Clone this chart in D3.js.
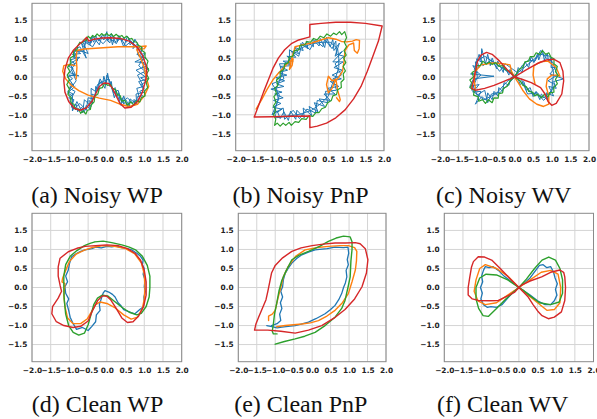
<!DOCTYPE html>
<html><head><meta charset="utf-8">
<script src="https://cdn.jsdelivr.net/npm/d3@7"></script>
<style>body{margin:0;background:#fff}svg{display:block}</style>
</head><body>
<svg id="chart" width="597" height="419"></svg>
<script>
// ---------- tick labels / captions ----------
const xTicks = [-2, -1.5, -1, -0.5, 0, 0.5, 1, 1.5, 2];
const yTicks = [-1.5, -1, -0.5, 0, 0.5, 1, 1.5];
const captions = ["(a) Noisy WP", "(b) Noisy PnP", "(c) Noisy WV", "(d) Clean WP", "(e) Clean PnP", "(f) Clean WV"];
const seriesColors = ["#1f77b4", "#ff7f0e", "#2ca02c", "#d62728"];

// ---------- (a) Noisy WP ----------
const aBlue = [[-1.0,-0.3],[-0.88,-0.22],[-1.05,-0.12],[-0.92,-0.05],[-1.02,0.05],[-0.75,0.03],[-1.0,0.12],[-0.9,0.22],[-1.04,0.3],[-0.85,0.35],[-0.98,0.45],[-0.82,0.5],[-0.92,0.6],[-0.7,0.62],[-0.85,0.72],[-0.72,0.8],[-0.55,0.5],[-0.68,0.9],[-0.6,0.78],[-0.55,1.0],[-0.45,0.85],[-0.42,1.05],[-0.35,0.92],[-0.3,1.1],[-0.22,0.95],[-0.15,1.08],[-0.08,0.98],[0.0,1.2],[0.02,0.95],[0.1,1.08],[0.15,0.85],[0.2,1.05],[0.28,0.98],[0.32,1.1],[0.4,0.95],[0.45,1.05],[0.52,0.92],[0.6,1.02],[0.62,0.85],[0.72,0.95],[0.7,0.75],[0.82,0.88],[0.85,0.72],[0.95,0.78],[0.9,0.6],[1.02,0.62],[0.92,0.48],[0.75,0.4],[1.0,0.38],[0.95,0.25],[1.12,0.22],[0.98,0.12],[1.08,0.02],[0.9,-0.02],[1.05,-0.12],[0.92,-0.2],[1.0,-0.32],[0.88,-0.38],[0.95,-0.5],[0.82,-0.52],[0.85,-0.65],[0.72,-0.6],[0.75,-0.75],[0.62,-0.65],[0.6,-0.78],[0.52,-0.62],[0.45,-0.72],[0.42,-0.55],[0.35,-0.62],[0.32,-0.42],[0.25,-0.5],[0.22,-0.28],[0.15,-0.35],[0.12,-0.12],[0.08,-0.25],[0.02,0.1],[-0.02,-0.2],[-0.08,0.02],[-0.12,-0.22],[-0.2,-0.1],[-0.22,-0.35],[-0.3,-0.25],[-0.3,-0.5],[-0.4,-0.45],[-0.38,-0.7],[-0.48,-0.62],[-0.45,-0.85],[-0.55,-0.75],[-0.6,-0.92],[-0.68,-0.8],[-0.78,-0.92],[-0.82,-0.72],[-0.95,-0.8],[-0.88,-0.6],[-1.02,-0.55],[-0.9,-0.45],[-1.05,-0.38],[-0.95,-0.28],[-0.82,-0.1],[-0.95,0.2],[-0.78,0.45],[-0.88,0.68],[-0.62,0.68],[-0.58,0.92],[-0.38,0.8],[-0.25,1.02],[-0.1,0.88],[0.05,1.05],[0.2,0.92],[0.38,1.02],[0.5,0.82],[0.65,0.95],[0.8,0.78],[0.85,0.55],[0.98,0.5],[0.85,0.3],[1.02,0.15],[0.82,0.05],[0.98,-0.25],[0.8,-0.3],[0.88,-0.58],[0.68,-0.68],[0.55,-0.55],[0.4,-0.68],[0.3,-0.35],[0.18,-0.42],[0.05,-0.05],[-0.1,-0.12],[-0.25,-0.2],[-0.35,-0.58],[-0.5,-0.55],[-0.55,-0.88],[-0.72,-0.7],[-0.88,-0.85],[-0.98,-0.62],[-0.85,-0.38],[-1.0,-0.3],[-0.92,-0.18],[-1.05,0.0],[-0.85,0.08],[-0.98,0.35],[-0.72,0.52],[-0.9,0.52],[-0.75,0.72],[-0.5,0.62],[-0.65,0.95],[-0.42,0.9],[-0.38,1.08],[-0.2,0.85],[-0.12,1.12],[0.08,0.9],[0.12,1.15],[0.25,0.88],[0.35,1.05],[0.45,0.8],[0.55,1.08],[0.7,0.85],[0.75,1.0],[0.92,0.7],[0.8,0.6],[1.05,0.5],[0.88,0.4],[1.08,0.3],[0.78,0.18],[1.1,-0.05],[0.85,-0.12],[1.02,-0.4],[0.78,-0.45],[0.8,-0.72],[0.62,-0.58],[0.55,-0.8],[0.45,-0.5],[0.38,-0.75],[0.25,-0.4],[0.2,-0.55],[0.1,-0.15],[0.0,0.05],[-0.05,-0.3],[-0.18,-0.05],[-0.28,-0.4],[-0.42,-0.3],[-0.42,-0.78],[-0.6,-0.6],[-0.65,-0.95],[-0.8,-0.65],[-0.92,-0.9],[-0.92,-0.5],[-1.05,-0.42],[-0.85,-0.25]];
const aOrange = [[-0.82,-0.05],[-0.8,0.25],[-0.82,0.5],[-0.8,0.7],[-0.6,0.74],[-0.3,0.76],[0.0,0.78],[0.3,0.8],[0.6,0.8],[0.85,0.8],[1.05,0.82],[1.0,0.75],[0.8,0.72],[0.9,0.5],[1.0,0.25],[1.05,0.0],[1.12,-0.25],[1.0,-0.5],[0.82,-0.72],[0.6,-0.78],[0.35,-0.72],[0.1,-0.62],[-0.2,-0.56],[-0.5,-0.48],[-0.75,-0.36],[-0.95,-0.22],[-1.1,-0.05],[-1.18,0.15],[-1.15,0.3],[-1.0,0.33],[-0.85,0.3]];
const aGreen = [[-0.78,0.82],[-0.72,0.92],[-0.66,0.9],[-0.6,1.0],[-0.55,0.96],[-0.5,1.08],[-0.44,1.02],[-0.38,1.1],[-0.32,1.06],[-0.26,1.14],[-0.2,1.08],[-0.14,1.15],[-0.08,1.1],[0.0,1.15],[0.06,1.09],[0.12,1.14],[0.18,1.07],[0.25,1.13],[0.32,1.06],[0.4,1.1],[0.46,1.03],[0.53,1.08],[0.6,1.0],[0.67,1.02],[0.72,0.94],[0.8,0.92],[0.84,0.84],[0.92,0.8],[0.94,0.7],[1.02,0.64],[1.02,0.52],[1.1,0.42],[1.06,0.3],[1.12,0.18],[1.06,0.08],[1.12,-0.04],[1.05,-0.15],[1.09,-0.28],[1.0,-0.38],[1.02,-0.5],[0.92,-0.55],[0.88,-0.66],[0.78,-0.64],[0.72,-0.74],[0.64,-0.66],[0.55,-0.74],[0.48,-0.62],[0.4,-0.64],[0.36,-0.5],[0.28,-0.46],[0.24,-0.34],[0.15,-0.3],[0.1,-0.2],[0.02,-0.22],[-0.05,-0.16],[-0.12,-0.28],[-0.2,-0.3],[-0.24,-0.45],[-0.32,-0.5],[-0.34,-0.66],[-0.42,-0.74],[-0.44,-0.86],[-0.52,-0.88],[-0.56,-0.98],[-0.64,-0.9],[-0.7,-0.96],[-0.76,-0.84],[-0.84,-0.86],[-0.88,-0.72],[-0.96,-0.68],[-0.96,-0.54],[-1.04,-0.46],[-1.0,-0.32],[-1.07,-0.2],[-1.0,-0.08],[-1.06,0.05],[-0.99,0.15],[-1.05,0.26],[-0.96,0.36],[-0.98,0.5],[-0.88,0.56],[-0.9,0.68],[-0.8,0.72],[-0.78,0.82]];
const aRed = [[-0.72,0.88],[-0.6,0.98],[-0.54,1.05],[-0.48,0.95],[-0.35,1.0],[-0.15,1.03],[0.1,1.04],[0.35,1.02],[0.6,0.95],[0.8,0.8],[0.95,0.58],[1.05,0.3],[1.07,0.1],[1.02,-0.15],[0.95,-0.4],[0.82,-0.65],[0.65,-0.8],[0.48,-0.82],[0.35,-0.7],[0.25,-0.5],[0.15,-0.3],[0.05,-0.17],[-0.08,-0.16],[-0.2,-0.25],[-0.3,-0.45],[-0.4,-0.65],[-0.55,-0.82],[-0.72,-0.88],[-0.88,-0.82],[-1.02,-0.65],[-1.12,-0.4],[-1.15,-0.1],[-1.12,0.2],[-1.03,0.5],[-0.9,0.7],[-0.8,0.8],[-0.72,0.88]];

// ---------- (b) Noisy PnP ----------
const bBlue = [[-0.9,-0.95],[-0.75,-0.85],[-1.0,-0.8],[-0.78,-0.7],[-0.98,-0.62],[-0.72,-0.55],[-0.95,-0.45],[-0.75,-0.4],[-1.05,-0.32],[-0.7,-0.25],[-0.9,-0.18],[-0.68,-0.1],[-0.92,-0.02],[-0.62,0.05],[-0.85,0.12],[-0.6,0.18],[-0.8,0.28],[-0.5,0.3],[-0.72,0.42],[-0.45,0.42],[-0.62,0.55],[-0.38,0.52],[-0.5,0.68],[-0.3,0.62],[-0.4,0.78],[-0.18,0.7],[-0.25,0.88],[-0.05,0.75],[-0.1,0.95],[0.1,0.8],[0.08,1.0],[0.25,0.82],[0.28,1.02],[0.4,0.78],[0.45,1.05],[0.55,0.8],[0.62,1.0],[0.65,0.7],[0.8,0.9],[0.68,0.55],[0.88,0.68],[0.62,0.4],[0.9,0.4],[0.65,0.25],[0.88,0.18],[0.6,0.05],[0.85,-0.05],[0.55,-0.12],[0.78,-0.25],[0.48,-0.3],[0.68,-0.45],[0.38,-0.45],[0.55,-0.62],[0.25,-0.58],[0.4,-0.78],[0.12,-0.68],[0.22,-0.92],[-0.02,-0.78],[0.05,-1.02],[-0.18,-0.82],[-0.15,-1.08],[-0.35,-0.88],[-0.38,-1.12],[-0.52,-0.9],[-0.58,-1.15],[-0.7,-0.92],[-0.8,-1.1],[-0.88,-0.9],[-1.02,-1.0],[-0.85,-0.6],[-0.9,-0.3],[-0.78,0.0],[-0.68,0.3],[-0.58,0.42],[-0.35,0.7],[-0.2,0.78],[0.05,0.88],[0.35,0.92],[0.55,0.92],[0.75,0.75],[0.78,0.5],[0.78,0.25],[0.7,0.0],[0.6,-0.2],[0.5,-0.5],[0.3,-0.7],[0.05,-0.88],[-0.25,-0.98],[-0.48,-1.02],[-0.7,-1.05],[-0.92,-1.08],[-0.95,-0.9],[-0.82,-0.48],[-1.02,-0.18],[-0.7,-0.05],[-0.82,0.35],[-0.55,0.35],[-0.55,0.72],[-0.3,0.55],[-0.2,0.92],[0.0,0.72],[0.15,0.98],[0.35,0.8],[0.4,1.0],[0.6,0.75],[0.7,0.95],[0.72,0.6],[0.92,0.55],[0.68,0.35],[0.85,0.05],[0.62,-0.05],[0.72,-0.35],[0.42,-0.38],[0.48,-0.68],[0.2,-0.62],[0.15,-0.95],[-0.08,-0.85],[-0.28,-1.1],[-0.45,-0.88],[-0.68,-1.12],[-0.72,-0.82],[-0.95,-0.95]];
const bOrange = [[-1.45,-0.85],[-1.3,-0.6],[-1.15,-0.32],[-1.0,-0.08],[-0.85,0.1],[-0.7,0.25],[-0.58,0.38],[-0.45,0.48],[-0.48,0.3],[-0.55,0.2],[-0.5,0.45],[-0.42,0.72],[-0.4,0.8],[-0.2,0.85],[0.05,0.9],[0.3,0.98],[0.5,1.04],[0.7,1.0],[0.85,0.94],[1.0,0.93],[1.15,0.95],[1.25,0.99],[1.34,0.97],[1.33,0.75],[1.28,0.63],[1.2,0.7],[1.18,0.9],[1.05,0.85],[0.95,0.7],[0.92,0.4],[0.88,0.15],[0.75,-0.05],[0.6,-0.1],[0.5,0.02],[0.45,-0.2],[0.5,-0.42],[0.6,-0.3],[0.7,-0.05],[0.75,-0.35],[0.82,-0.6],[0.8,-0.65],[0.72,-0.55]];
const bGreen = [[-0.95,-1.28],[-0.88,-1.22],[-0.8,-1.3],[-0.72,-1.22],[-0.65,-1.28],[-0.56,-1.2],[-0.5,-1.28],[-0.4,-1.18],[-0.3,-1.2],[-0.22,-1.1],[-0.1,-1.12],[-0.02,-1.02],[0.08,-1.04],[0.16,-0.94],[0.25,-0.94],[0.32,-0.84],[0.42,-0.8],[0.48,-0.68],[0.58,-0.62],[0.62,-0.5],[0.72,-0.46],[0.75,-0.34],[0.85,-0.28],[0.84,-0.14],[0.92,-0.06],[0.9,0.08],[0.96,0.16],[0.9,0.28],[0.97,0.38],[0.91,0.5],[0.98,0.58],[0.92,0.7],[0.99,0.8],[0.93,0.92],[0.99,1.04],[0.94,1.2],[0.86,1.12],[0.8,1.2],[0.72,1.12],[0.64,1.16],[0.56,1.08],[0.46,1.14],[0.38,1.04],[0.28,1.08],[0.2,0.98],[0.1,1.02],[0.02,0.92],[-0.08,0.94],[-0.15,0.84],[-0.26,0.84],[-0.3,0.72],[-0.42,0.7],[-0.45,0.56],[-0.56,0.52],[-0.58,0.38],[-0.68,0.34],[-0.7,0.2],[-0.8,0.14],[-0.8,0.0],[-0.9,-0.08],[-0.86,-0.22],[-0.95,-0.3],[-0.9,-0.44],[-0.97,-0.52],[-0.91,-0.66],[-0.98,-0.76],[-0.92,-0.88],[-0.98,-1.0],[-0.92,-1.12],[-0.95,-1.28]];
const bRed = [[-1.5,-1.06],[-1.38,-0.75],[-1.25,-0.4],[-1.12,-0.08],[-1.0,0.22],[-0.85,0.5],[-0.68,0.72],[-0.5,0.88],[-0.3,0.98],[-0.12,1.03],[0.0,1.06],[0.0,1.39],[0.3,1.42],[0.7,1.45],[1.1,1.45],[1.5,1.42],[1.95,1.35],[1.85,0.95],[1.7,0.55],[1.55,0.15],[1.38,-0.25],[1.18,-0.58],[0.95,-0.87],[0.7,-1.08],[0.45,-1.22],[0.2,-1.3],[0.0,-1.34],[0.0,-1.03],[-0.5,-1.04],[-1.0,-1.05],[-1.5,-1.06]];

// ---------- (c) Noisy WV ----------
const cBlue = [[0,0],[-0.12,0.2],[-0.15,0.05],[-0.28,0.3],[-0.3,0.12],[-0.45,0.42],[-0.48,0.22],[-0.6,0.5],[-0.65,0.3],[-0.72,0.6],[-0.78,0.35],[-0.88,0.75],[-0.9,0.4],[-1.02,0.48],[-0.95,0.25],[-1.12,0.3],[-1.0,0.12],[-1.18,0.08],[-0.55,0.02],[-1.1,-0.05],[-1.2,-0.25],[-0.95,-0.2],[-1.12,-0.4],[-0.9,-0.38],[-1.05,-0.72],[-0.88,-0.52],[-0.75,-0.62],[-0.72,-0.42],[-0.6,-0.6],[-0.55,-0.38],[-0.45,-0.5],[-0.42,-0.28],[-0.32,-0.38],[-0.28,-0.15],[-0.15,-0.22],[-0.1,-0.02],[0.05,0.05],[0.1,0.25],[0.2,0.12],[0.28,0.4],[0.38,0.25],[0.45,0.55],[0.52,0.38],[0.62,0.62],[0.65,0.45],[0.75,0.72],[0.8,0.45],[0.88,0.62],[0.92,0.4],[1.0,0.5],[0.98,0.25],[1.1,0.25],[0.95,0.08],[1.32,-0.05],[1.05,-0.12],[1.12,-0.3],[0.92,-0.25],[1.05,-0.5],[0.85,-0.42],[0.9,-0.62],[0.72,-0.45],[0.68,-0.6],[0.58,-0.38],[0.5,-0.52],[0.42,-0.28],[0.32,-0.35],[0.25,-0.12],[0.15,-0.2],[0.08,0.0],[-0.2,0.15],[-0.5,0.35],[-0.8,0.55],[-1.05,0.4],[-1.0,0.0],[-1.15,-0.35],[-0.82,-0.6],[-0.5,-0.45],[-0.2,-0.12],[0.2,0.2],[0.5,0.45],[0.7,0.6],[0.95,0.55],[1.05,0.1],[1.0,-0.35],[0.8,-0.55],[0.45,-0.4],[0.15,-0.1],[0,0],[0.1,0.1],[-0.25,0.35],[-0.4,0.15],[-0.62,0.45],[-0.85,0.3],[-0.95,0.6],[-1.08,0.2],[-0.9,0.05],[-1.15,-0.15],[-1.0,-0.48],[-0.8,-0.35],[-0.72,-0.68],[-0.62,-0.45],[-0.38,-0.4],[-0.25,-0.28],[0.0,0.0],[0.22,0.32],[0.38,0.45],[0.55,0.42],[0.7,0.7],[0.85,0.5],[1.02,0.4],[1.15,0.05],[0.9,-0.1],[1.08,-0.2],[0.95,-0.45],[0.78,-0.62],[0.62,-0.42],[0.35,-0.45],[0.18,-0.05]];
const cOrange = [[-1.05,-0.3],[-1.08,-0.1],[-1.05,0.15],[-0.9,0.32],[-0.6,0.37],[-0.3,0.35],[-0.12,0.32],[-0.08,0.15],[0.0,0.0],[0.1,-0.15],[0.22,-0.35],[0.4,-0.58],[0.6,-0.72],[0.78,-0.78],[0.92,-0.72],[0.92,-0.5],[0.85,-0.25],[0.88,-0.05],[1.0,0.05],[1.15,0.05],[1.22,0.02],[1.12,0.25],[0.9,0.42],[0.7,0.4],[0.52,0.3],[0.5,0.05],[0.55,-0.18]];
const cGreen = [[0,0],[-0.12,0.14],[-0.25,0.2],[-0.32,0.3],[-0.42,0.28],[-0.5,0.38],[-0.6,0.33],[-0.68,0.4],[-0.76,0.34],[-0.85,0.42],[-0.92,0.3],[-1.02,0.3],[-1.04,0.18],[-1.14,0.12],[-1.1,0.0],[-1.2,-0.08],[-1.13,-0.18],[-1.2,-0.28],[-1.08,-0.36],[-1.1,-0.48],[-0.98,-0.52],[-0.96,-0.64],[-0.86,-0.6],[-0.78,-0.7],[-0.7,-0.6],[-0.6,-0.68],[-0.55,-0.55],[-0.44,-0.56],[-0.42,-0.44],[-0.32,-0.42],[-0.3,-0.3],[-0.2,-0.25],[-0.12,-0.1],[0,0],[0.12,0.2],[0.22,0.26],[0.28,0.4],[0.38,0.42],[0.42,0.54],[0.52,0.54],[0.58,0.64],[0.68,0.6],[0.75,0.7],[0.84,0.6],[0.92,0.64],[0.98,0.52],[1.06,0.48],[1.06,0.35],[1.15,0.28],[1.1,0.14],[1.17,0.04],[1.1,-0.06],[1.15,-0.18],[1.05,-0.28],[1.06,-0.4],[0.95,-0.42],[0.9,-0.52],[0.8,-0.46],[0.72,-0.55],[0.62,-0.46],[0.54,-0.5],[0.48,-0.4],[0.38,-0.38],[0.32,-0.26],[0.22,-0.22],[0.15,-0.1],[0,0]];
const cRed = [[0,0],[-0.2,0.2],[-0.4,0.42],[-0.6,0.6],[-0.75,0.65],[-0.9,0.58],[-1.0,0.4],[-1.05,0.15],[-1.1,-0.1],[-1.15,-0.3],[-1.05,-0.35],[-0.8,-0.3],[-0.55,-0.22],[-0.3,-0.12],[0,0],[0.3,0.18],[0.6,0.35],[0.85,0.45],[1.05,0.47],[1.22,0.38],[1.3,0.15],[1.32,-0.1],[1.27,-0.45],[1.12,-0.7],[1.0,-0.75],[0.9,-0.65],[0.82,-0.45],[0.7,-0.28],[0.45,-0.15],[0.2,-0.06],[0,0]];

// ---------- (d) Clean WP ----------
const dBlue = [[-0.58,0.99],[-0.4,1.02],[-0.3,1.06],[-0.15,1.04],[0.0,1.08],[0.13,1.07],[0.25,1.09],[0.4,1.05],[0.55,1.02],[0.66,0.99],[0.8,0.9],[0.9,0.82],[0.97,0.72],[0.95,0.6],[1.0,0.5],[0.97,0.35],[1.02,0.2],[1.0,0.02],[1.03,-0.1],[0.99,-0.25],[1.0,-0.4],[0.97,-0.51],[0.88,-0.58],[0.75,-0.69],[0.65,-0.66],[0.55,-0.62],[0.45,-0.58],[0.38,-0.48],[0.3,-0.4],[0.22,-0.25],[0.15,-0.18],[0.05,-0.12],[-0.05,-0.08],[-0.1,-0.15],[-0.15,-0.3],[-0.2,-0.45],[-0.18,-0.6],[-0.28,-0.72],[-0.3,-0.9],[-0.4,-1.02],[-0.5,-1.13],[-0.65,-1.05],[-0.81,-1.1],[-0.9,-0.95],[-0.98,-0.78],[-1.02,-0.6],[-1.07,-0.42],[-1.02,-0.3],[-1.1,-0.15],[-1.12,0.02],[-1.05,0.15],[-1.1,0.3],[-1.03,0.46],[-1.0,0.62],[-0.94,0.81],[-0.8,0.9],[-0.7,0.95],[-0.58,0.99]];
const dOrange = [[-0.4,1.05],[-0.1,1.1],[0.2,1.08],[0.5,1.02],[0.75,0.88],[0.92,0.65],[1.0,0.35],[1.02,0.0],[1.0,-0.3],[0.95,-0.55],[0.82,-0.78],[0.65,-0.83],[0.45,-0.72],[0.2,-0.52],[0.0,-0.42],[-0.18,-0.38],[-0.3,-0.45],[-0.4,-0.62],[-0.52,-0.82],[-0.7,-0.95],[-0.9,-0.95],[-1.05,-0.8],[-1.12,-0.5],[-1.15,-0.2],[-1.12,0.1],[-1.2,0.15],[-1.18,0.25],[-1.1,0.45],[-1.0,0.68],[-0.82,0.88],[-0.6,0.98],[-0.4,1.05]];
const dGreen = [[-0.32,1.2],[-0.1,1.22],[0.13,1.18],[0.4,1.12],[0.6,1.06],[0.78,0.98],[0.95,0.82],[1.08,0.58],[1.15,0.3],[1.15,0.0],[1.13,-0.25],[1.05,-0.5],[0.92,-0.68],[0.8,-0.72],[0.6,-0.65],[0.4,-0.52],[0.2,-0.36],[0.02,-0.22],[-0.12,-0.2],[-0.25,-0.28],[-0.35,-0.45],[-0.42,-0.7],[-0.5,-0.98],[-0.6,-1.2],[-0.75,-1.25],[-0.9,-1.18],[-1.02,-1.0],[-1.1,-0.7],[-1.14,-0.3],[-1.15,0.0],[-1.15,0.3],[-1.1,0.6],[-0.98,0.82],[-0.8,0.97],[-0.6,1.1],[-0.45,1.16],[-0.32,1.2]];
const dRed = [[-0.58,1.08],[-0.3,1.1],[0.0,1.12],[0.3,1.1],[0.55,1.02],[0.75,0.9],[0.9,0.72],[1.0,0.45],[1.05,0.15],[1.05,-0.2],[0.98,-0.5],[0.85,-0.75],[0.7,-0.9],[0.55,-0.92],[0.4,-0.8],[0.25,-0.55],[0.1,-0.32],[0.0,-0.23],[-0.12,-0.22],[-0.25,-0.35],[-0.38,-0.6],[-0.5,-0.88],[-0.7,-1.02],[-0.9,-1.05],[-1.15,-1.0],[-1.35,-0.9],[-1.47,-0.69],[-1.45,-0.5],[-1.3,-0.28],[-1.21,-0.1],[-1.25,0.06],[-1.3,0.3],[-1.3,0.54],[-1.25,0.77],[-1.03,0.94],[-0.8,1.03],[-0.58,1.08]];

// ---------- (e) Clean PnP ----------
const eBlue = [[-1.23,-1.0],[-1.09,-1.03],[-0.95,-1.06],[-0.82,-1.04],[-0.65,-1.02],[-0.46,-1.0],[-0.3,-0.96],[-0.1,-0.91],[0.1,-0.82],[0.35,-0.69],[0.5,-0.58],[0.62,-0.47],[0.72,-0.32],[0.8,-0.16],[0.85,0.0],[0.9,0.12],[0.94,0.28],[0.92,0.45],[0.98,0.6],[0.95,0.73],[0.99,0.9],[0.97,1.06],[0.85,1.05],[0.62,1.06],[0.4,1.02],[0.2,1.0],[0.08,0.99],[-0.1,0.93],[-0.28,0.86],[-0.42,0.76],[-0.55,0.64],[-0.65,0.5],[-0.73,0.37],[-0.78,0.2],[-0.8,0.02],[-0.85,-0.1],[-0.8,-0.25],[-0.86,-0.4],[-0.82,-0.55],[-0.88,-0.7],[-0.85,-0.87],[-0.95,-0.95],[-1.1,-1.0]];
const eOrange = [[-1.18,-0.87],[-1.18,-0.75],[-1.08,-0.7],[-1.0,-0.6],[-0.93,-0.3],[-0.85,0.0],[-0.78,0.28],[-0.65,0.55],[-0.45,0.82],[-0.19,0.99],[0.15,1.05],[0.44,1.08],[0.75,1.1],[0.98,1.1],[1.15,1.05],[1.21,0.95],[1.2,0.7],[1.17,0.46],[1.08,0.15],[0.98,-0.16],[0.82,-0.4],[0.62,-0.6],[0.4,-0.75],[0.17,-0.87],[-0.05,-0.93],[-0.28,-0.96],[-0.5,-0.98],[-0.73,-1.0],[-0.96,-1.03]];
const eGreen = [[-1.0,-1.49],[-0.75,-1.42],[-0.46,-1.35],[-0.2,-1.28],[0.08,-1.18],[0.35,-1.0],[0.62,-0.78],[0.8,-0.55],[0.89,-0.34],[0.97,0.0],[1.03,0.28],[1.05,0.7],[1.08,1.0],[1.08,1.2],[1.03,1.33],[0.85,1.35],[0.65,1.3],[0.44,1.21],[0.2,1.08],[-0.1,0.95],[-0.35,0.85],[-0.55,0.73],[-0.7,0.45],[-0.82,0.19],[-0.9,-0.1],[-0.96,-0.42],[-1.02,-0.7],[-1.05,-0.96],[-1.08,-1.15],[-1.05,-1.22],[-0.95,-1.22]];
const eRed = [[-1.56,-1.12],[-1.2,-1.12],[-0.85,-1.15],[-0.46,-1.2],[-0.1,-1.12],[0.26,-1.0],[0.6,-0.8],[0.89,-0.58],[1.15,-0.3],[1.35,0.02],[1.47,0.38],[1.51,0.73],[1.44,1.02],[1.3,1.15],[1.17,1.18],[0.9,1.17],[0.62,1.17],[0.3,1.14],[0.0,1.1],[-0.3,1.04],[-0.55,0.95],[-0.8,0.78],[-1.0,0.58],[-1.1,0.38],[-1.14,0.19],[-1.2,-0.1],[-1.25,-0.32],[-1.35,-0.55],[-1.45,-0.78],[-1.52,-0.95],[-1.56,-1.12]];

// ---------- (f) Clean WV ----------
const fBlue = [[0,0],[-0.2,0.15],[-0.4,0.3],[-0.55,0.45],[-0.7,0.55],[-0.8,0.52],[-0.9,0.55],[-0.95,0.45],[-1.0,0.3],[-0.97,0.15],[-1.03,0.0],[-0.98,-0.15],[-1.02,-0.3],[-0.95,-0.45],[-0.85,-0.52],[-0.75,-0.5],[-0.6,-0.52],[-0.45,-0.45],[-0.3,-0.28],[-0.15,-0.12],[0,0],[0.15,0.12],[0.3,0.25],[0.45,0.45],[0.55,0.58],[0.65,0.6],[0.75,0.52],[0.85,0.55],[0.93,0.4],[0.97,0.25],[1.03,0.1],[0.98,-0.05],[1.02,-0.2],[0.95,-0.35],[0.85,-0.45],[0.7,-0.45],[0.5,-0.35],[0.3,-0.2],[0.12,-0.08],[0,0]];
const fOrange = [[0,0],[-0.3,0.3],[-0.6,0.5],[-0.9,0.6],[-1.05,0.5],[-1.15,0.2],[-1.2,-0.1],[-1.1,-0.35],[-0.9,-0.45],[-0.6,-0.4],[-0.3,-0.2],[0,0],[0.3,0.2],[0.6,0.4],[0.85,0.45],[1.05,0.35],[1.12,0.0],[1.1,-0.4],[0.95,-0.58],[0.75,-0.6],[0.5,-0.4],[0.25,-0.2],[0,0]];
const fGreen = [[0,0],[-0.3,0.2],[-0.6,0.33],[-0.88,0.35],[-1.05,0.25],[-1.15,0.0],[-1.15,-0.3],[-1.08,-0.55],[-0.96,-0.74],[-0.82,-0.76],[-0.6,-0.55],[-0.35,-0.3],[-0.12,-0.1],[0,0],[0.2,0.22],[0.42,0.5],[0.62,0.72],[0.8,0.8],[0.98,0.72],[1.1,0.5],[1.17,0.2],[1.17,-0.15],[1.08,-0.38],[0.85,-0.45],[0.55,-0.4],[0.3,-0.22],[0.1,-0.06],[0,0]];
const fRed = [[0,0],[-0.29,0.28],[-0.5,0.5],[-0.73,0.72],[-0.92,0.8],[-1.09,0.81],[-1.22,0.68],[-1.27,0.54],[-1.32,0.25],[-1.36,0.0],[-1.36,-0.2],[-1.25,-0.3],[-1.09,-0.34],[-0.8,-0.35],[-0.55,-0.34],[-0.3,-0.22],[-0.11,-0.12],[0,0],[0.07,0.06],[0.3,0.17],[0.61,0.28],[0.85,0.4],[1.1,0.46],[1.2,0.4],[1.23,0.28],[1.25,0.0],[1.23,-0.34],[1.14,-0.64],[0.95,-0.78],[0.79,-0.82],[0.62,-0.74],[0.52,-0.64],[0.38,-0.45],[0.25,-0.25],[0.1,-0.1],[0,0]];

// ---------- layout ----------
const panels = [
  {cap: captions[0], box: [32, 181.7, 3.3, 150.7], capX: 97, capY: 203, series: [aBlue, aOrange, aGreen, aRed], sw: [1.0, 1.4, 1.2, 1.4]},
  {cap: captions[1], box: [235.7, 384, 3.3, 150.7], capX: 300.5, capY: 203, series: [bBlue, bOrange, bGreen, bRed], sw: [1.0, 1.4, 1.2, 1.4]},
  {cap: captions[2], box: [440, 589, 3.3, 150.7], capX: 503.7, capY: 203, series: [cBlue, cOrange, cGreen, cRed], sw: [1.0, 1.4, 1.2, 1.4]},
  {cap: captions[3], box: [32, 181.7, 213.3, 361.7], capX: 97.5, capY: 411.5, series: [dBlue, dOrange, dGreen, dRed], sw: [1.3, 1.4, 1.4, 1.4]},
  {cap: captions[4], box: [238.3, 386, 213.3, 361.7], capX: 300.8, capY: 411.5, series: [eBlue, eOrange, eGreen, eRed], sw: [1.3, 1.4, 1.4, 1.4]},
  {cap: captions[5], box: [444.3, 593.5, 213.3, 361.7], capX: 502.7, capY: 411.5, series: [fBlue, fOrange, fGreen, fRed], sw: [1.3, 1.4, 1.4, 1.4]}
];

const svg = d3.select("#chart");
const fmt = d3.format(".1f");

panels.forEach(p => {
  const [x0, x1, y0, y1] = p.box;
  const x = d3.scaleLinear().domain([-2, 2]).range([x0, x1]);
  const y = d3.scaleLinear().domain([-1.95, 1.95]).range([y1, y0]);
  const g = svg.append("g");

  g.append("g").selectAll("line").data(xTicks).join("line")
    .attr("x1", d => x(d)).attr("x2", d => x(d)).attr("y1", y0).attr("y2", y1)
    .attr("stroke", "#d4d4d4").attr("stroke-width", 1);
  g.append("g").selectAll("line").data(yTicks).join("line")
    .attr("x1", x0).attr("x2", x1).attr("y1", d => y(d)).attr("y2", d => y(d))
    .attr("stroke", "#d4d4d4").attr("stroke-width", 1);

  const line = d3.line().x(d => x(d[0])).y(d => y(d[1]));
  p.series.forEach((s, i) => {
    g.append("path").datum(s).attr("d", line)
      .attr("fill", "none").attr("stroke", seriesColors[i])
      .attr("stroke-width", p.sw[i]).attr("stroke-linejoin", "round").attr("stroke-linecap", "round");
  });

  g.append("rect").attr("x", x0).attr("y", y0).attr("width", x1 - x0).attr("height", y1 - y0)
    .attr("fill", "none").attr("stroke", "#8a8a8a").attr("stroke-width", 1);

  const ax = g.append("g").attr("transform", `translate(0,${y1})`)
    .call(d3.axisBottom(x).tickValues(xTicks).tickFormat(fmt).tickSize(0).tickPadding(6));
  const ay = g.append("g").attr("transform", `translate(${x0},0)`)
    .call(d3.axisLeft(y).tickValues(yTicks).tickFormat(fmt).tickSize(0).tickPadding(4.7));
  [ax, ay].forEach(a => {
    a.select(".domain").remove();
    a.selectAll("text").attr("font-family", "DejaVu Sans").attr("font-weight", "bold")
      .attr("font-size", 7.4).attr("fill", "#222");
  });

  svg.append("text").attr("x", p.capX).attr("y", p.capY).attr("text-anchor", "middle")
    .attr("font-family", "Liberation Serif, Times New Roman, serif").attr("font-size", 24)
    .attr("fill", "#111").text(p.cap);
});
</script>
</body></html>
